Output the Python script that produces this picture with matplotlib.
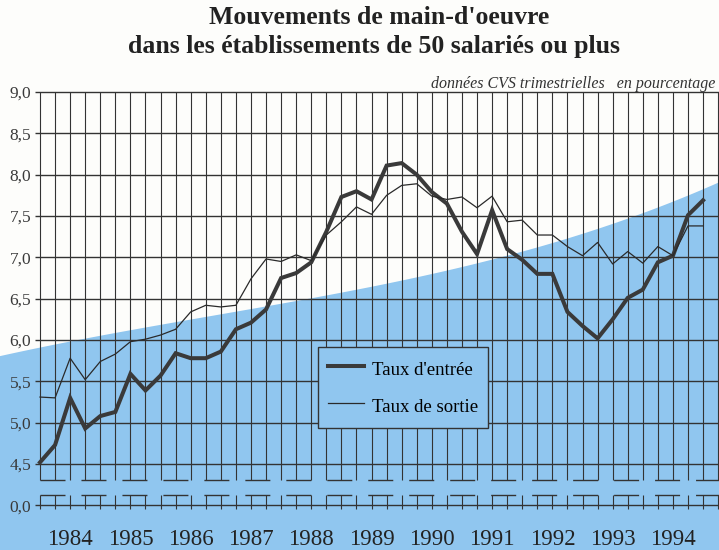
import numpy as np
import matplotlib.pyplot as plt
from matplotlib.patches import Polygon

plt.rcParams.update({"font.family": ["Liberation Serif", "DejaVu Serif"]})

# quarterly series, 1983 Q3 -> 1994 Q3 (percent)
entree = [4.52, 4.73, 5.30, 4.93, 5.08, 5.13, 5.59, 5.39, 5.57, 5.84,
          5.78, 5.78, 5.86, 6.13, 6.21, 6.37, 6.75, 6.81, 6.94, 7.31,
          7.73, 7.80, 7.70, 8.11, 8.14, 8.00, 7.79, 7.65, 7.31, 7.04,
          7.57, 7.10, 6.97, 6.80, 6.80, 6.34, 6.17, 6.02, 6.25, 6.51,
          6.61, 6.94, 7.02, 7.51, 7.69]
sortie = [5.31, 5.30, 5.78, 5.52, 5.74, 5.83, 5.98, 6.01, 6.06, 6.13,
          6.34, 6.42, 6.40, 6.42, 6.74, 6.98, 6.95, 7.03, 6.96, 7.27,
          7.43, 7.61, 7.52, 7.75, 7.87, 7.89, 7.74, 7.70, 7.73, 7.60,
          7.74, 7.43, 7.45, 7.27, 7.27, 7.13, 7.02, 7.18, 6.92, 7.07,
          6.93, 7.13, 7.02, 7.38, 7.38]
years = ["1984", "1985", "1986", "1987", "1988", "1989",
         "1990", "1991", "1992", "1993", "1994"]
y_levels = [4.5, 5.0, 5.5, 6.0, 6.5, 7.0, 7.5, 8.0, 8.5, 9.0]
y_labels = ["4,5", "5,0", "5,5", "6,0", "6,5", "7,0", "7,5", "8,0", "8,5", "9,0"]

BLUE = "#90c6ef"
INK = "#333333"
W, H = 719, 550

fig = plt.figure(figsize=(7.19, 5.5), dpi=100)
fig.patch.set_facecolor("#fdfdfb")

# decorative blue background (pixel coords of its upper edge)
edge_x = [0, 250, 430, 490, 600, 650, 719]
edge_y = [356, 310, 273, 260, 230, 210, 182]
coef = np.polyfit(edge_x, edge_y, 3)
xs = np.linspace(0, W, 200)
pts = np.column_stack([xs / W, 1 - np.polyval(coef, xs) / H])
pts = np.vstack([pts, [[1, 0], [0, 0]]])
fig.add_artist(Polygon(pts, closed=True, transform=fig.transFigure,
                       facecolor=BLUE, edgecolor="none", zorder=0))

# axes geometry: 15.07 px per quarter, 82.67 px per unit, 9.0 at y=92
dx, dy = 15.07, 82.67
x0, x1 = -0.3, 45.06
y0, y1 = 3.9, 9.02
ax = fig.add_axes([(40 + x0 * dx) / W, 1 - (92 + (9 - y0) * dy) / H,
                   (x1 - x0) * dx / W, (y1 - y0) * dy / H])
ax.set_facecolor("none")
ax.set_xlim(x0, x1)
ax.set_ylim(y0, y1)
for s in ax.spines.values():
    s.set_visible(False)

# broken axis: the 0,0 line is drawn at 4.0
zero = 4.0
brk_hi, brk_lo = 4.307, 4.125
q = np.arange(len(entree))
grid_q = np.arange(46)

ax.hlines(y_levels + [zero], x0, x1, color=INK, lw=1.0, zorder=2)
ax.vlines(grid_q, brk_hi, 9.0, color=INK, lw=0.8, zorder=2)
ax.vlines(grid_q, 3.95, brk_lo, color=INK, lw=0.8, zorder=2)
for yb in (brk_hi, brk_lo):
    ax.plot([0, x1], [yb, yb], color=INK, lw=1.0,
            linestyle=(0, (18, 11.5)), zorder=2)

l1, = ax.plot(q, entree, color="#3a3a3a", lw=2.9, zorder=4,
              solid_joinstyle="miter")
l2, = ax.plot(q, sortie, color="#2a2a2a", lw=0.9, zorder=4)

ax.set_yticks([zero] + y_levels, ["0,0"] + y_labels)
ax.set_xticks(np.arange(2, 45, 4), years)
ax.tick_params(axis="y", length=0, pad=3, labelsize=12.5, labelcolor="#3a3a3a")
ax.tick_params(axis="x", length=0, pad=11, labelsize=16.5, labelcolor="#222222")

leg = ax.legend([l1, l2], ["Taux d'entrée", "Taux de sortie"],
                loc="upper left", bbox_to_anchor=(318 / W, 1 - 347 / H),
                bbox_transform=fig.transFigure, borderaxespad=0,
                fancybox=False, edgecolor=INK, facecolor=BLUE, framealpha=1,
                fontsize=13.5, handlelength=1.9, handleheight=1.6,
                handletextpad=0.45, labelspacing=0.69, borderpad=0.53)
leg.get_frame().set_linewidth(1.0)
leg.set_zorder(6)

fig.text(379 / W, 1 - 18 / H, "Mouvements de main-d'oeuvre",
         ha="center", va="center", fontsize=18.5, fontweight="bold", color="#222222")
fig.text(374 / W, 1 - 47 / H, "dans les établissements de 50 salariés ou plus",
         ha="center", va="center", fontsize=18.5, fontweight="bold", color="#222222")
fig.text(715 / W, 1 - 84 / H, "données CVS trimestrielles   en pourcentage",
         ha="right", va="center", fontsize=11.5, style="italic", color="#333333")

fig.savefig("out.png", dpi=100, facecolor=fig.get_facecolor())
